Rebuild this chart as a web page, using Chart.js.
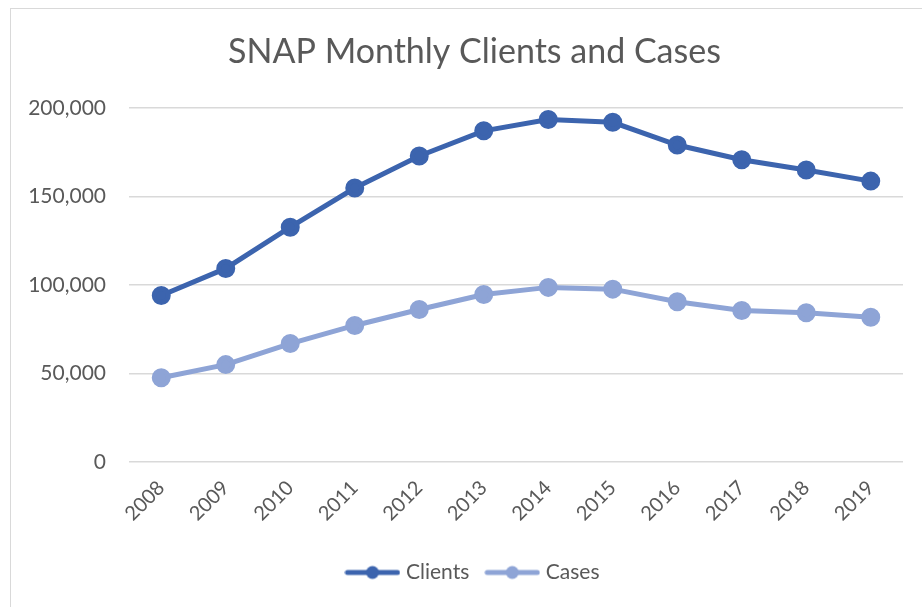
<!DOCTYPE html>
<html>
<head>
<meta charset="utf-8">
<script src="https://cdn.jsdelivr.net/npm/chart.js@4"></script>
<style>
  html, body { margin: 0; padding: 0; background: #fff; overflow: hidden; }
  #frame { position: absolute; left: 10px; top: 8px; width: 940px; height: 640px; border: 1px solid #d9d9d9; }
  #wrap { position: absolute; left: 0; top: 0; width: 922px; height: 607px; }
</style>
</head>
<body>
<div id="frame"></div>
<div id="wrap"><canvas id="snapChart"></canvas></div>
<script>
// 数据
const years = ['2008', '2009', '2010', '2011', '2012', '2013', '2014', '2015', '2016', '2017', '2018', '2019'];
const clients = [94000, 109300, 132600, 154700, 172800, 187000, 193400, 191800, 179000, 170700, 164900, 158600];
const cases = [47600, 55000, 66900, 77100, 86100, 94600, 98600, 97600, 90500, 85500, 84300, 81700];
const yTicks = [0, 50000, 100000, 150000, 200000];

const textColor = '#595959';
const fontFamily = 'Lato, "Open Sans", sans-serif';

// 图例图标：线 + 圆点
function legendIcon(color) {
    const c = document.createElement('canvas');
    c.width = 56; c.height = 16;
    const g = c.getContext('2d');
    g.strokeStyle = color;
    g.lineWidth = 5;
    g.lineCap = 'round';
    g.beginPath();
    g.moveTo(3, 8); g.lineTo(53, 8);
    g.stroke();
    g.fillStyle = color;
    g.beginPath();
    g.arc(28, 8, 6.5, 0, Math.PI * 2);
    g.fill();
    return c;
}

// 标题和图例稍微右移（与原图一致）
const shiftPlugin = {
    id: 'shiftBlocks',
    afterLayout: function(chart) {
        [chart.legend, chart.titleBlock].forEach(function(box) {
            if (box) { box.left += 23; box.right += 23; }
        });
    }
};

const ctx = document.getElementById('snapChart').getContext('2d');
const snapChart = new Chart(ctx, {
    type: 'line',
    data: {
        labels: years,
        datasets: [{
            label: 'Clients',
            data: clients,
            borderColor: '#3c64ae',
            backgroundColor: '#3c64ae',
            borderWidth: 5,
            pointRadius: 7,
            pointHoverRadius: 7,
            tension: 0
        }, {
            label: 'Cases',
            data: cases,
            borderColor: '#8ea4d6',
            backgroundColor: '#8ea4d6',
            borderWidth: 5,
            pointRadius: 7,
            pointHoverRadius: 7,
            tension: 0
        }]
    },
    plugins: [shiftPlugin],
    options: {
        responsive: true,
        maintainAspectRatio: false,
        animation: false,
        layout: { padding: { left: 0, right: 19, top: 0, bottom: 14 } },
        plugins: {
            title: {
                display: true,
                text: 'SNAP Monthly Clients and Cases',
                color: textColor,
                font: { family: fontFamily, size: 34, weight: 'normal' },
                padding: { top: 32, bottom: 35 }
            },
            legend: {
                position: 'bottom',
                labels: {
                    color: textColor,
                    font: { family: fontFamily, size: 21 },
                    usePointStyle: true,
                    pointStyleWidth: 46,
                    padding: 20,
                    generateLabels: function(chart) {
                        return chart.data.datasets.map(function(ds, i) {
                            return {
                                text: ds.label,
                                fontColor: textColor,
                                pointStyle: legendIcon(ds.borderColor),
                                datasetIndex: i,
                                hidden: false,
                                lineWidth: 0,
                                strokeStyle: 'transparent',
                                fillStyle: ds.borderColor
                            };
                        });
                    }
                }
            },
            tooltip: { enabled: false }
        },
        scales: {
            x: {
                offset: true,
                grid: { display: false },
                border: { display: false },
                ticks: {
                    color: textColor,
                    font: { family: fontFamily, size: 20 },
                    minRotation: 45,
                    maxRotation: 45,
                    padding: 6
                },
                afterFit: function(scale) { scale.height = 80; }
            },
            y: {
                min: 0,
                max: 200000,
                afterBuildTicks: function(scale) {
                    scale.ticks = yTicks.map(function(v) { return { value: v }; });
                },
                grid: { color: '#d9d9d9', lineWidth: 1.5, drawTicks: false },
                border: { display: false },
                ticks: {
                    color: textColor,
                    font: { family: fontFamily, size: 21 },
                    padding: 23,
                    callback: function(v) { return v.toLocaleString('en-US'); }
                },
                afterFit: function(scale) { scale.width = 129; }
            }
        }
    }
});
</script>
</body>
</html>
